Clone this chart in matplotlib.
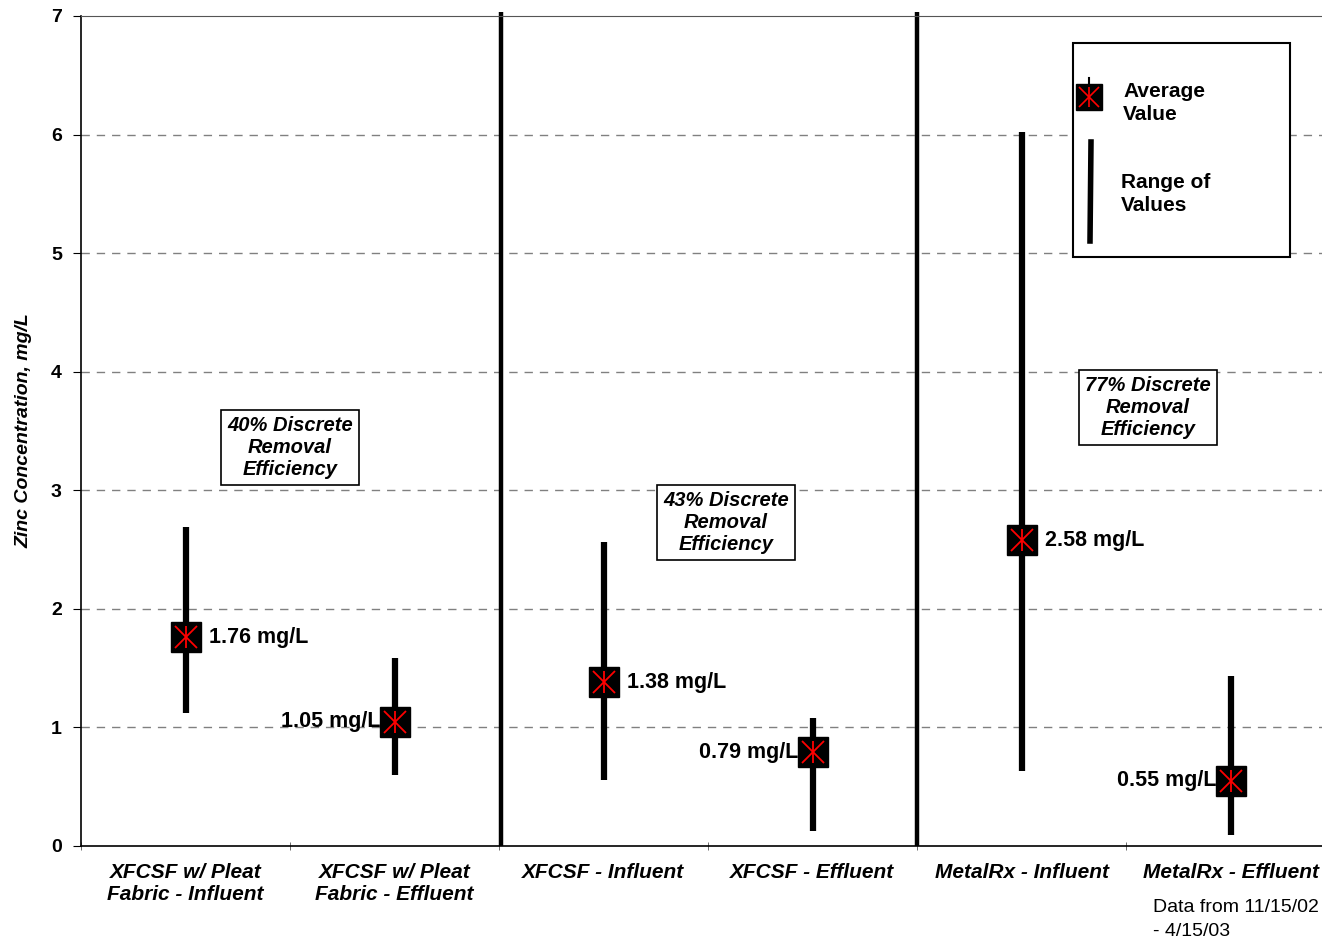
import matplotlib
matplotlib.use("Agg")
import matplotlib.pyplot as plt
from matplotlib.lines import Line2D
from matplotlib.patches import Rectangle

plt.rcParams['font.family'] = ['Liberation Sans', 'DejaVu Sans']

categories = ["XFCSF w/ Pleat\nFabric - Influent", "XFCSF w/ Pleat\nFabric - Effluent",
              "XFCSF - Influent", "XFCSF - Effluent",
              "MetalRx - Influent", "MetalRx - Effluent"]
averages = [1.76, 1.05, 1.38, 0.79, 2.58, 0.55]
range_low = [1.12, 0.60, 0.56, 0.13, 0.63, 0.09]
range_high = [2.69, 1.585, 2.56, 1.08, 6.02, 1.43]
avg_labels = ["1.76 mg/L", "1.05 mg/L", "1.38 mg/L", "0.79 mg/L", "2.58 mg/L", "0.55 mg/L"]
label_side = ["right", "left", "right", "left", "right", "left"]
efficiency_text = ["40% Discrete\nRemoval\nEfficiency", "43% Discrete\nRemoval\nEfficiency",
                   "77% Discrete\nRemoval\nEfficiency"]
efficiency_pos = [(0.5, 3.36), (2.586, 2.73), (4.605, 3.70)]
dividers = [1.51, 3.5]

W, H = 1322, 940
fig = plt.figure(figsize=(W / 100, H / 100), dpi=100)
left = 81 / W
bottom = 1 - 846 / H
width = 1254 / W
height = (846 - 16) / H
ax = fig.add_axes([left, bottom, width, height])

x = list(range(len(categories)))
ax.set_xlim(-0.5, 5.5)
ax.set_ylim(0, 7)

for y in range(1, 7):
    ax.axhline(y, color='#808080', lw=1.0, ls=(0, (6, 5)), zorder=1)

for d in dividers:
    ax.plot([d, d], [0, 7.03], color='black', lw=3.2, zorder=2, clip_on=False,
            solid_capstyle='butt')

for i in x:
    ax.plot([i, i], [range_low[i], range_high[i]], color='black', lw=4.5,
            solid_capstyle='butt', zorder=3)
    ax.plot(i, averages[i], marker='s', ms=21.5, mfc='black', mec='black', zorder=4, ls='none')
    ax.plot(i, averages[i], marker='x', ms=16, mec='red', mew=1.3, zorder=5, ls='none')
    ax.plot(i, averages[i], marker='|', ms=16, mec='red', mew=1.3, zorder=5, ls='none')
    if label_side[i] == 'right':
        ax.annotate(avg_labels[i], (i, averages[i]), xytext=(17, 0), textcoords='offset points',
                    ha='left', va='center', fontsize=15.5, fontweight='bold', zorder=6)
    else:
        ax.annotate(avg_labels[i], (i, averages[i]), xytext=(-10, 0), textcoords='offset points',
                    ha='right', va='center', fontsize=15.5, fontweight='bold', zorder=6)

for t, (px, py) in zip(efficiency_text, efficiency_pos):
    ax.text(px, py, t, ha='center', va='center', fontsize=14.5, fontweight='bold',
            fontstyle='italic', linespacing=1.2, zorder=6,
            bbox=dict(boxstyle='square,pad=0.3', fc='white', ec='black', lw=1.2))

ax.set_xticks(x)
ax.set_xticklabels(categories, fontsize=15, fontweight='bold', fontstyle='italic', linespacing=1.2)
ax.tick_params(axis='x', length=0, pad=12)
ax.set_xticks([i + 0.5 for i in range(-1, 6)], minor=True)
ax.tick_params(axis='x', which='minor', length=6, direction='inout', color='#555555')
ax.set_yticks(range(0, 8))
ax.set_yticklabels([str(v) for v in range(0, 8)], fontsize=14, fontweight='bold')
ax.tick_params(axis='y', length=5.8, direction='out', pad=8)
ax.set_ylabel("Zinc Concentration, mg/L", fontsize=14, fontweight='bold', fontstyle='italic')
ax.yaxis.set_label_coords(-0.039, 0.5)

ax.spines['right'].set_visible(False)
ax.spines['top'].set_color('#555555')
ax.spines['left'].set_linewidth(1.2)
ax.spines['bottom'].set_linewidth(1.2)

# legend box (figure pixel coords)
def fx(px):
    return px / W

def fy(py):
    return 1 - py / H

fig.patches.append(Rectangle((fx(1073), fy(257)), fx(1290) - fx(1073), fy(43) - fy(257),
                             transform=fig.transFigure, fc='white', ec='black', lw=1.5, zorder=10))
fig.add_artist(Line2D([fx(1089), fx(1089)], [fy(78), fy(84)], color='black', lw=1.5,
                      transform=fig.transFigure, zorder=11))
fig.add_artist(Line2D([fx(1089)], [fy(97)], marker='s', ms=19, mfc='black', mec='black',
                      transform=fig.transFigure, zorder=11))
fig.add_artist(Line2D([fx(1089)], [fy(97)], marker='x', ms=14, mec='red', mew=1.2,
                      transform=fig.transFigure, zorder=12))
fig.add_artist(Line2D([fx(1089)], [fy(97)], marker='|', ms=14, mec='red', mew=1.2,
                      transform=fig.transFigure, zorder=12))
fig.add_artist(Line2D([fx(1091), fx(1090)], [fy(142), fy(241)], color='black', lw=4,
                      transform=fig.transFigure, zorder=11))
fig.text(fx(1123), fy(103), "Average\nValue", ha='left', va='center', fontsize=15,
         fontweight='bold', linespacing=1.3, zorder=12)
fig.text(fx(1121), fy(194), "Range of\nValues", ha='left', va='center', fontsize=15,
         fontweight='bold', linespacing=1.3, zorder=12)

fig.text(fx(1153), fy(899), "Data from 11/15/02\n- 4/15/03", ha='left', va='top', fontsize=14,
         linespacing=1.5)

fig.savefig("out.png", dpi=100)
